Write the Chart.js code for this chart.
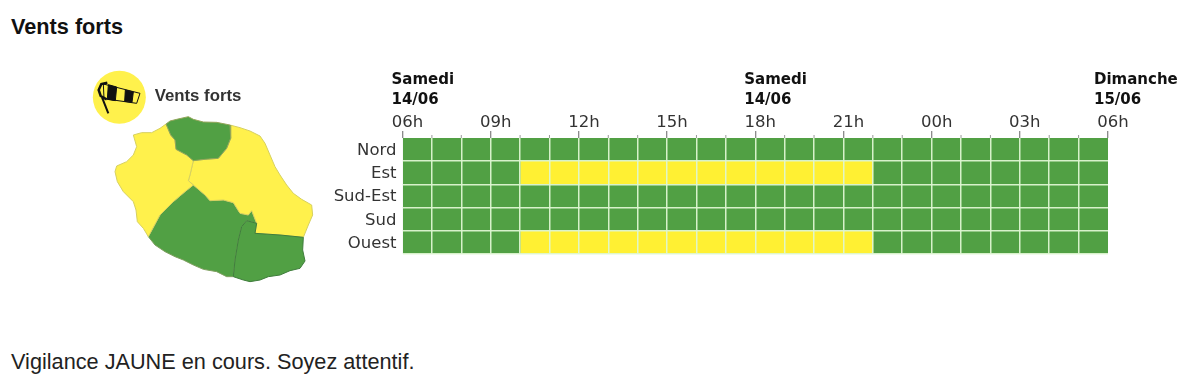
<!DOCTYPE html>
<html>
<head>
<meta charset="utf-8">
<title>Vents forts</title>
<script src="https://cdn.jsdelivr.net/npm/chart.js@4"></script>
<style>
    body { margin: 0; background: #fff; font-family: "Liberation Sans", sans-serif; color: #111; }
    #page { position: relative; width: 1200px; height: 382px; overflow: hidden; }
    h1 { position: absolute; left: 11px; top: 15px; margin: 0; font-size: 21.7px; line-height: 24px; font-weight: bold; }
    p { position: absolute; left: 11px; top: 350px; margin: 0; font-size: 21.7px; line-height: 24px; color: #222; }
    #mapChart { position: absolute; left: 80px; top: 60px; }
    #gridChart { position: absolute; left: 330px; top: 60px; }
</style>
</head>
<body>
<div id="page">
    <h1>Vents forts</h1>
    <canvas id="mapChart" width="250" height="230"></canvas>
    <canvas id="gridChart" width="870" height="210"></canvas>
    <p>Vigilance JAUNE en cours. Soyez attentif.</p>
</div>
<script>
const zones = ['Nord', 'Est', 'Sud-Est', 'Sud', 'Ouest'];
const hourLabels = ['06h', '', '', '09h', '', '', '12h', '', '', '15h', '', '', '18h', '', '', '21h', '', '', '00h', '', '', '03h', '', '', '06h'];
const dayLabels = ['Samedi', 'Samedi', 'Dimanche'];
const dateLabels = ['14/06', '14/06', '15/06'];
const dayHours = [0, 12, 24];

// vigilance level per hour: 1 green, 2 yellow
const nord = [1, 1, 1, 1, 1, 1, 1, 1, 1, 1, 1, 1, 1, 1, 1, 1, 1, 1, 1, 1, 1, 1, 1, 1];
const est = [1, 1, 1, 1, 2, 2, 2, 2, 2, 2, 2, 2, 2, 2, 2, 2, 1, 1, 1, 1, 1, 1, 1, 1];
const sudEst = [1, 1, 1, 1, 1, 1, 1, 1, 1, 1, 1, 1, 1, 1, 1, 1, 1, 1, 1, 1, 1, 1, 1, 1];
const sud = [1, 1, 1, 1, 1, 1, 1, 1, 1, 1, 1, 1, 1, 1, 1, 1, 1, 1, 1, 1, 1, 1, 1, 1];
const ouest = [1, 1, 1, 1, 2, 2, 2, 2, 2, 2, 2, 2, 2, 2, 2, 2, 1, 1, 1, 1, 1, 1, 1, 1];
const levels = [nord, est, sudEst, sud, ouest];

// map outlines, as [x, y] in map units
const mapNord = [[258, 192], [270, 183], [290, 178], [325, 170], [340, 178], [370, 186], [410, 187], [450, 195], [452, 235], [440, 265], [415, 295], [375, 298], [340, 302], [320, 285], [288, 268], [285, 240], [272, 225]];
const mapOuest = [[258, 192], [272, 225], [285, 240], [288, 268], [320, 285], [340, 302], [330, 345], [325, 362], [340, 375], [315, 395], [280, 425], [240, 465], [205, 530], [190, 505], [172, 485], [168, 450], [160, 425], [130, 395], [112, 365], [105, 335], [110, 318], [140, 305], [160, 285], [170, 260], [160, 225], [185, 218], [215, 218], [240, 205]];
const mapEst = [[450, 195], [480, 203], [510, 213], [540, 228], [555, 250], [570, 285], [585, 320], [600, 345], [620, 375], [640, 400], [665, 418], [695, 435], [698, 465], [685, 495], [670, 532], [600, 525], [525, 520], [530, 490], [515, 452], [505, 465], [480, 460], [460, 428], [430, 420], [390, 422], [375, 405], [340, 375], [325, 362], [330, 345], [340, 302], [375, 298], [415, 295], [440, 265], [452, 235]];
const mapSudOuest = [[340, 375], [375, 405], [390, 422], [430, 420], [460, 428], [480, 460], [505, 465], [515, 452], [530, 490], [500, 482], [485, 500], [475, 540], [465, 600], [460, 650], [440, 650], [410, 635], [370, 628], [340, 615], [310, 600], [285, 590], [255, 575], [225, 555], [205, 530], [240, 465], [280, 425], [315, 395]];
const mapSudEst = [[530, 490], [525, 520], [600, 525], [670, 532], [668, 570], [675, 603], [660, 625], [630, 632], [600, 645], [565, 650], [540, 660], [510, 665], [490, 660], [460, 650], [465, 600], [475, 540], [485, 500], [500, 482]];
const iconCenter = [[118, 112]];
const sockBody = [[70, 72], [180, 100], [170, 130], [72, 116]];
const sockBand1 = [[85, 74], [110, 81], [106, 122], [82, 118]];
const sockBand2 = [[136, 90], [160, 96], [156, 127], [134, 124]];
const sockRing = [[82, 68], [64, 72], [56, 90], [62, 108], [80, 118]];
const sockPole = [[66, 112], [85, 160]];

const GREEN = '#51a044';
const YELLOW = '#fff033';
const MAP_YELLOW = '#fff14c';
const GRID_LINE = 'rgba(222,245,210,0.95)';
const TEXT = '#333';
const FONT = '"DejaVu Sans", sans-serif';

function getColor(level) {
    return level === 2 ? YELLOW : GREEN;
}

function getGridData() {
    return {
        labels: zones,
        datasets: nord.map((_, hour) => ({
            label: hourLabels[hour],
            data: levels.map(() => 1),
            backgroundColor: levels.map(row => getColor(row[hour])),
            barPercentage: 1,
            categoryPercentage: 1,
        })),
    };
}

// day headings and the short hourly ticks hang off the x scale
const gridExtras = {
    id: 'gridExtras',
    afterDraw(chart) {
        const ctx = chart.ctx;
        const x = chart.scales.x;
        const top = chart.chartArea.top;
        ctx.save();
        ctx.strokeStyle = '#999';
        ctx.lineWidth = 1;
        hourLabels.forEach((label, i) => {
            if (label) return;
            ctx.beginPath();
            ctx.moveTo(x.getPixelForValue(i), top - 3);
            ctx.lineTo(x.getPixelForValue(i), top);
            ctx.stroke();
        });
        ctx.fillStyle = '#111';
        ctx.font = 'bold 15px ' + FONT;
        ctx.textAlign = 'left';
        dayHours.forEach((hour, i) => {
            const left = x.getPixelForValue(hour) - (i === 2 ? 14 : 11);
            ctx.fillText(dayLabels[i], left, 24);
            ctx.fillText(dateLabels[i], left, 44);
        });
        ctx.restore();
    },
};

new Chart(document.getElementById('gridChart'), {
    type: 'bar',
    data: getGridData(),
    plugins: [gridExtras],
    options: {
        indexAxis: 'y',
        responsive: false,
        animation: false,
        layout: { padding: { right: 92, bottom: 14 } },
        plugins: {
            legend: { display: false },
            tooltip: { enabled: false },
        },
        scales: {
            x: {
                type: 'linear',
                position: 'top',
                stacked: true,
                min: 0,
                max: 24,
                afterFit: scale => { scale.height = 78; },
                border: { display: false },
                grid: {
                    z: 1,
                    lineWidth: 1.5,
                    tickLength: 7,
                    tickWidth: 1,
                    tickColor: c => (hourLabels[c.index] ? '#666' : 'transparent'),
                    color: c => (c.index === 0 || c.index === 24 ? 'transparent' : GRID_LINE),
                },
                ticks: {
                    stepSize: 1,
                    autoSkip: false,
                    maxRotation: 0,
                    padding: -2,
                    labelOffset: 5,
                    color: TEXT,
                    font: { family: FONT, size: 16.5 },
                    callback: value => hourLabels[value],
                },
            },
            y: {
                stacked: true,
                afterFit: scale => { scale.width = 72.5; },
                border: { display: false },
                grid: {
                    z: 1,
                    lineWidth: 1.5,
                    drawTicks: false,
                    color: c => (c.index === 0 ? 'transparent' : GRID_LINE),
                },
                ticks: {
                    padding: 6,
                    labelOffset: 1,
                    color: TEXT,
                    font: { family: FONT, size: 16.5 },
                },
            },
        },
    },
});

function getShape(points, fillColor, lineColor, order) {
    const closed = points.concat([points[0]]);
    return {
        data: closed.map(p => ({ x: p[0], y: p[1] })),
        showLine: true,
        fill: 'shape',
        backgroundColor: fillColor,
        borderColor: lineColor,
        borderWidth: 1,
        pointRadius: 0,
        tension: 0,
        order: order,
    };
}

function getStroke(points, width) {
    return {
        data: points.map(p => ({ x: p[0], y: p[1] })),
        showLine: true,
        borderColor: '#111',
        borderWidth: width,
        pointRadius: 0,
        order: 1,
    };
}

const mapLabel = {
    id: 'mapLabel',
    afterDraw(chart) {
        const ctx = chart.ctx;
        ctx.save();
        ctx.fillStyle = '#333';
        ctx.font = 'bold 16.8px "Liberation Sans", sans-serif';
        ctx.fillText('Vents forts', chart.scales.x.getPixelForValue(224), chart.scales.y.getPixelForValue(123));
        ctx.restore();
    },
};

new Chart(document.getElementById('mapChart'), {
    type: 'scatter',
    plugins: [mapLabel],
    data: {
        datasets: [
            getShape(mapNord, GREEN, '#93a65a', 5),
            getShape(mapOuest, MAP_YELLOW, '#d6d060', 5),
            getShape(mapEst, MAP_YELLOW, '#d6d060', 5),
            getShape(mapSudOuest, GREEN, '#7f9f60', 5),
            getShape(mapSudEst, GREEN, '#3f7d3c', 4),
            {
                data: iconCenter.map(p => ({ x: p[0], y: p[1] })),
                pointRadius: 26.5,
                pointBackgroundColor: MAP_YELLOW,
                pointBorderWidth: 0,
                order: 10,
            },
            getShape(sockBody, MAP_YELLOW, '#111', 3),
            getShape(sockBand1, '#111', '#111', 2),
            getShape(sockBand2, '#111', '#111', 2),
            getStroke(sockRing, 2.5),
            getStroke(sockPole, 2),
        ],
    },
    options: {
        responsive: false,
        animation: false,
        layout: { padding: 0, autoPadding: false },
        plugins: {
            legend: { display: false },
            tooltip: { enabled: false },
        },
        scales: {
            x: { type: 'linear', display: false, min: 0, max: 750 },
            y: { type: 'linear', display: false, min: 0, max: 690, reverse: true },
        },
    },
});
</script>
</body>
</html>
